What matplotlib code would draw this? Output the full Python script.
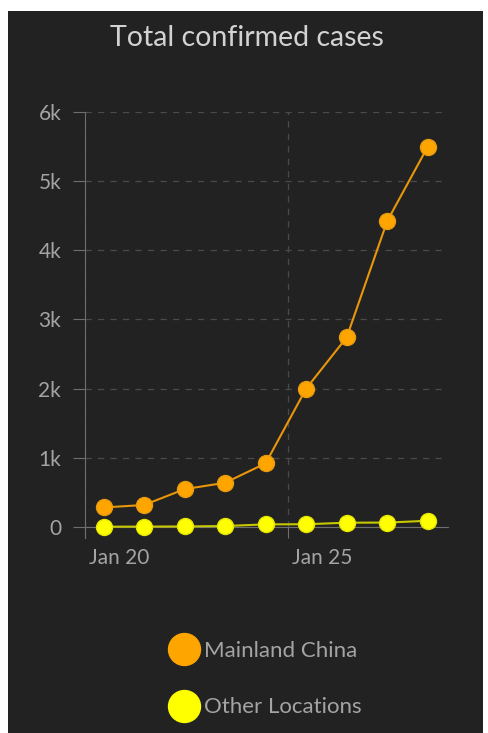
import matplotlib as mpl
import matplotlib.pyplot as plt
import pandas as pd
from matplotlib.patches import Rectangle
from matplotlib.lines import Line2D
from matplotlib.transforms import ScaledTranslation

mpl.rcParams["font.family"] = ["Lato", "DejaVu Sans"]

# Data
dates = ["2020-01-20", "2020-01-21", "2020-01-22", "2020-01-23", "2020-01-24",
         "2020-01-25", "2020-01-26", "2020-01-27", "2020-01-28"]
mainland_china = [282, 318, 547, 639, 920, 2000, 2740, 4420, 5494]
other_locations = [4, 6, 8, 14, 38, 40, 62, 64, 90]
series_names = ["Mainland China", "Other Locations"]
y_ticks = [0, 1000, 2000, 3000, 4000, 5000, 6000]
y_tick_labels = ["0", "1k", "2k", "3k", "4k", "5k", "6k"]
x_ticks = ["2020-01-20", "2020-01-25"]
x_tick_labels = ["Jan 20", "Jan 25"]

BG = "#222222"
TEXT = "#a4a4a4"
ORANGE = "#ffa500"
YELLOW = "#ffff00"

W, H = 489, 733
fig = plt.figure(figsize=(W / 100, H / 100), dpi=100, facecolor="white")

# Dark panel inside the white border
fig.patches.append(Rectangle((8 / W, 0), 475 / W, 1 - 11 / H,
                             transform=fig.transFigure, facecolor=BG,
                             edgecolor="none", zorder=-10))

fig.text(247 / W, 1 - 38 / H, "Total confirmed cases", ha="center", va="center",
         color="#d2d2d2", fontsize=20.5)

ax = fig.add_axes([85 / W, 1 - 527 / H, (448 - 85) / W, (527 - 111.7) / H])
ax.set_facecolor(BG)

# points sit around noon of each day
x = pd.to_datetime(dates) + pd.Timedelta(hours=11)

ax.plot(x, mainland_china, "-o", color="#e8960a", lw=1.5, ms=11.5,
        mfc=ORANGE, mec="#e89a10", mew=1, clip_on=False, zorder=4)
ax.plot(x, other_locations, "-o", color="#c8c800", lw=1.5, ms=11.5,
        mfc=YELLOW, mec="#e6e600", mew=1, clip_on=False, zorder=5)

ax.set_xlim(pd.Timestamp("2020-01-20"), pd.Timestamp("2020-01-28 23:00"))
ax.set_ylim(0, 6000)

ax.set_yticks(y_ticks)
ax.set_yticklabels(y_tick_labels)
ax.set_xticks(pd.to_datetime(x_ticks))
ax.set_xticklabels(x_tick_labels, ha="left")

ax.yaxis.grid(True, ls=(0, (5, 5)), color="#4a4a4a", lw=0.9)
ax.xaxis.grid(True, ls=(0, (5, 5)), color="#4a4a4a", lw=0.9)
ax.set_axisbelow(True)

for side in ["top", "right"]:
    ax.spines[side].set_visible(False)
ax.spines["left"].set_color("#6e6e6e")
ax.spines["bottom"].set_color("#6e6e6e")
ax.spines["left"].set_bounds(-160, 6000)

ax.tick_params(axis="y", length=8.6, color="#6e6e6e", labelcolor=TEXT,
               labelsize=15, pad=8.5)
ax.tick_params(axis="x", length=8, color="#6e6e6e", labelcolor=TEXT,
               labelsize=15, pad=7)
# nudge date labels a little right of their tick
for lbl in ax.get_xticklabels():
    lbl.set_transform(lbl.get_transform() + ScaledTranslation(4 / 100, 0, fig.dpi_scale_trans))

# Legend
handles = [Line2D([], [], ls="none", marker="o", ms=23, mfc=c, mec=c)
           for c in [ORANGE, YELLOW]]
fig.legend(handles, series_names, loc="center", bbox_to_anchor=(266 / W, 1 - 679 / H),
           frameon=False, labelcolor=TEXT, fontsize=16, handletextpad=0.25,
           labelspacing=1.65, handlelength=1.3)

fig.savefig("out.png", dpi=100, facecolor="white")
